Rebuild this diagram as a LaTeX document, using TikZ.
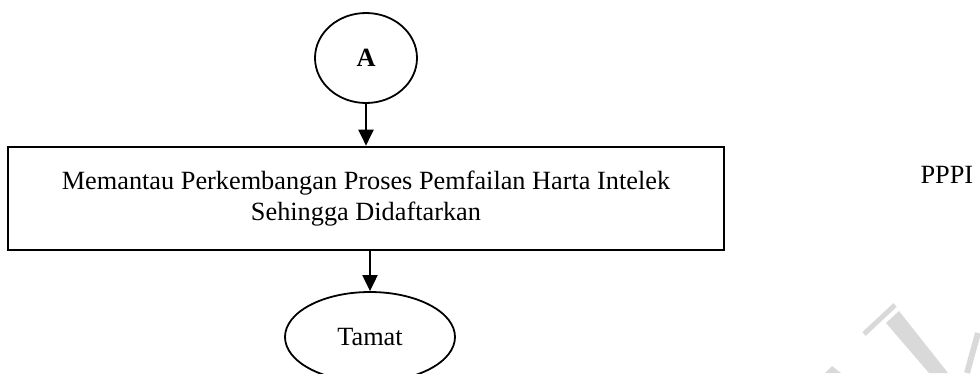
\documentclass[tikz,border=0pt]{standalone}
\usepackage{fontspec}
\setmainfont{Liberation Serif}
\usetikzlibrary{arrows.meta,shapes.geometric}
\begin{document}
\begin{tikzpicture}[x=1pt,y=-1pt,
  txt/.style={font=\fontsize{26.3}{31}\selectfont},
  oval/.style={draw,ellipse,line width=1.8pt,inner sep=0pt,txt},
  procbox/.style={draw,rectangle,line width=2.6pt,inner sep=0pt,align=center,txt},
  flow/.style={line width=2pt,-{Triangle[length=16pt,width=15pt]}},
  wm/.style={black!15}]
\useasboundingbox (0,0) rectangle (980,373);
\clip (0,0) rectangle (980,373);
% watermark fragments
\fill[wm] (886,323) -- (899,311) -- (948,373) -- (929,373) -- cycle;
\draw[wm,line width=5pt] (864,334) -- (895,305);
\fill[wm] (825,373) -- (832,366) -- (841,373) -- cycle;
\draw[wm,line width=6pt] (978,333) -- (967,373);
% flowchart
\node[oval,minimum width=102pt,minimum height=90pt,font=\fontsize{26.3}{31}\selectfont\bfseries] (A) at (366,58) {A};
\node[procbox,minimum width=716pt,minimum height=103pt] (box) at (366,198.5) {Memantau Perkembangan Proses Pemfailan Harta Intelek\\Sehingga Didaftarkan};
\node[oval,minimum width=170pt,minimum height=90pt] (end) at (370,337) {Tamat};
\node[txt,anchor=base west] (pppi) at (917,183) {PPPI};
\draw[flow] (A.south) -- (A.south |- box.north);
\draw[flow] (box.south -| end.north) -- (end.north);
\end{tikzpicture}
\end{document}
